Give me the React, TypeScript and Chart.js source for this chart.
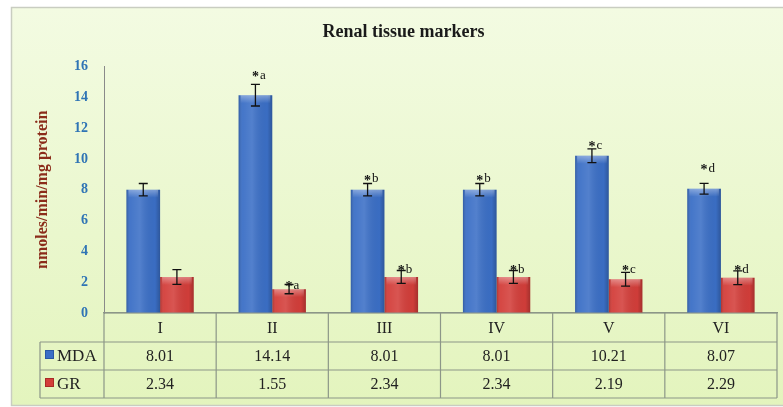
import React, { useEffect, useRef } from "react";
import { Chart, registerables } from "chart.js";

Chart.register(...registerables);

const categories = ["I", "II", "III", "IV", "V", "VI"];
const seriesNames = ["MDA", "GR"];
const mdaValues = [8.01, 14.14, 8.01, 8.01, 10.21, 8.07];
const grValues = [2.34, 1.55, 2.34, 2.34, 2.19, 2.29];
const mdaErrors = [0.4, 0.7, 0.4, 0.4, 0.45, 0.35];
const grErrors = [0.48, 0.3, 0.42, 0.42, 0.45, 0.45];
const mdaMarks = ["", "a", "b", "b", "c", "d"];
const grMarks = ["", "a", "b", "b", "c", "d"];
const mdaMarkY = [null, 15.4, 8.7, 8.7, 10.9, 9.4];
const grMarkY = [null, 1.8, 2.8, 2.8, 2.8, 2.8];
const yMin = 0;
const yMax = 16;
const yStep = 2;
const chartTitle = "Renal tissue markers";
const yTitle = "nmoles/min/mg protein";

const SERIF = "'Liberation Serif', 'Times New Roman', serif";
const LINE = "#8c9688";
const BAR_COLORS = ["#3b6fc6", "#d33e3a"];
const BAR_EDGES = ["#2a58a4", "#a92b27"];

const errs = [mdaErrors, grErrors];
const marks = [mdaMarks, grMarks];
const markYs = [mdaMarkY, grMarkY];
const tableRows = [mdaValues, grValues];

const framePlugin = {
  id: "frame",
  beforeDraw(chart: any) {
    const { ctx, width, height } = chart;
    ctx.save();
    ctx.fillStyle = "#ffffff";
    ctx.fillRect(0, 0, width, height);
    const g = ctx.createLinearGradient(0, 8, 0, height);
    g.addColorStop(0, "#f3fbe2");
    g.addColorStop(1, "#e3f4bd");
    ctx.fillStyle = g;
    ctx.fillRect(11, 8, width, height - 9);
    ctx.strokeStyle = "#c9cdc1";
    ctx.lineWidth = 1.5;
    ctx.strokeRect(11.5, 7.5, width, height - 9);
    ctx.restore();
  },
};

const barDecorPlugin = {
  id: "barDecor",
  afterDatasetsDraw(chart: any) {
    const { ctx } = chart;
    const y = chart.scales.y;
    ctx.save();
    chart.data.datasets.forEach((ds: any, di: number) => {
      const meta = chart.getDatasetMeta(di);
      meta.data.forEach((el: any, i: number) => {
        const w = el.width;
        const left = el.x - w / 2;
        const top = Math.min(el.y, el.base);
        const h = Math.abs(el.base - el.y);
        const g = ctx.createLinearGradient(left, 0, left + w, 0);
        g.addColorStop(0, "rgba(0,0,0,0.18)");
        g.addColorStop(0.12, "rgba(255,255,255,0.05)");
        g.addColorStop(0.4, "rgba(255,255,255,0.12)");
        g.addColorStop(0.85, "rgba(0,0,0,0.02)");
        g.addColorStop(1, "rgba(0,0,0,0.22)");
        ctx.fillStyle = g;
        ctx.fillRect(left, top, w, h);
        const cg = ctx.createLinearGradient(0, top, 0, top + 8);
        cg.addColorStop(0, "rgba(255,255,255,0.35)");
        cg.addColorStop(1, "rgba(255,255,255,0)");
        ctx.fillStyle = cg;
        ctx.fillRect(left + 2, top, w - 4, 8);

        const v = ds.data[i];
        const e = errs[di][i];
        const yt = y.getPixelForValue(v + e);
        const yb = y.getPixelForValue(v - e);
        ctx.strokeStyle = "#111";
        ctx.lineWidth = 1.3;
        ctx.beginPath();
        ctx.moveTo(el.x, yt);
        ctx.lineTo(el.x, yb);
        ctx.moveTo(el.x - 4.5, yt);
        ctx.lineTo(el.x + 4.5, yt);
        ctx.moveTo(el.x - 4.5, yb);
        ctx.lineTo(el.x + 4.5, yb);
        ctx.stroke();

        const m = marks[di][i];
        const my = markYs[di][i];
        if (m && my != null) {
          const py = y.getPixelForValue(my);
          ctx.fillStyle = "#111";
          ctx.textBaseline = "middle";
          ctx.textAlign = "center";
          ctx.font = `bold 14px ${SERIF}`;
          ctx.fillText("*", el.x, py + 2);
          ctx.textAlign = "left";
          ctx.font = `13px ${SERIF}`;
          ctx.fillText(m, el.x + 4.5, py);
        }
      });
    });
    ctx.restore();
  },
};

const tablePlugin = {
  id: "dataTable",
  afterDraw(chart: any) {
    const { ctx, chartArea } = chart;
    const x = chart.scales.x;
    const n = categories.length;
    const left = chartArea.left;
    const right = chartArea.right;
    const r0 = chartArea.bottom;
    const r1 = x.bottom;
    const rowH = 28;
    const r2 = r1 + rowH;
    const r3 = r2 + rowH;
    const tableLeft = 40;
    ctx.save();
    ctx.strokeStyle = LINE;
    ctx.lineWidth = 1.2;
    ctx.beginPath();
    [r1, r2, r3].forEach((yy) => {
      ctx.moveTo(tableLeft, yy);
      ctx.lineTo(right, yy);
    });
    ctx.moveTo(left, r0);
    ctx.lineTo(right, r0);
    for (let i = 0; i <= n; i++) {
      const xx = x.getPixelForValue(i - 0.5);
      ctx.moveTo(xx, r0);
      ctx.lineTo(xx, r3);
    }
    ctx.moveTo(tableLeft, r1);
    ctx.lineTo(tableLeft, r3);
    ctx.stroke();

    const rowsY = [r1, r2];
    tableRows.forEach((vals, ri) => {
      const cy = rowsY[ri] + rowH / 2;
      ctx.fillStyle = BAR_COLORS[ri];
      ctx.fillRect(tableLeft + 5, cy - 6, 9, 9);
      ctx.strokeStyle = BAR_EDGES[ri];
      ctx.lineWidth = 1;
      ctx.strokeRect(tableLeft + 5.5, cy - 5.5, 8, 8);
      ctx.fillStyle = "#222";
      ctx.font = `17px ${SERIF}`;
      ctx.textBaseline = "middle";
      ctx.textAlign = "left";
      ctx.fillText(seriesNames[ri], tableLeft + 17, cy + 1);
      ctx.font = `16px ${SERIF}`;
      ctx.textAlign = "center";
      vals.forEach((v, i) => {
        ctx.fillText(v.toFixed(2), x.getPixelForValue(i), cy + 1);
      });
    });
    ctx.restore();
  },
};

export default function App() {
  const ref = useRef<HTMLCanvasElement | null>(null);
  useEffect(() => {
    if (!ref.current) return;
    const chart = new Chart(ref.current, {
      type: "bar",
      data: {
        labels: categories,
        datasets: [
          {
            label: seriesNames[0],
            data: mdaValues,
            backgroundColor: BAR_COLORS[0],
            borderColor: BAR_EDGES[0],
            borderWidth: 0,
          },
          {
            label: seriesNames[1],
            data: grValues,
            backgroundColor: BAR_COLORS[1],
            borderColor: BAR_EDGES[1],
            borderWidth: 0,
          },
        ],
      },
      options: {
        responsive: false,
        animation: false,
        layout: { padding: { left: 30, right: 6, top: 0, bottom: 65 } },
        datasets: { bar: { categoryPercentage: 0.6, barPercentage: 1.0 } },
        plugins: {
          legend: { display: false },
          tooltip: { enabled: false },
          title: {
            display: true,
            text: chartTitle,
            color: "#1a1a1a",
            font: { family: SERIF, size: 18, weight: "bold" },
            padding: { top: 22, bottom: 23 },
          },
        },
        scales: {
          x: {
            grid: { display: false, drawTicks: false },
            border: { display: true, color: LINE, width: 1.2 },
            ticks: {
              color: "#222",
              font: { family: SERIF, size: 16 },
              padding: 6,
            },
            afterFit: (s: any) => {
              s.height = 29;
            },
          },
          y: {
            min: yMin,
            max: yMax,
            grid: { display: false, drawTicks: false },
            border: { display: true, color: "#8a8a8a", width: 1 },
            ticks: {
              stepSize: yStep,
              color: "#2f74b5",
              font: { family: SERIF, size: 14, weight: "bold" },
              padding: 16,
            },
            title: {
              display: true,
              text: yTitle,
              color: "#8b2c1a",
              font: { family: SERIF, size: 16, weight: "bold" },
              padding: { top: 3, bottom: 0 },
            },
            afterFit: (s: any) => {
              s.width = 74;
            },
          },
        },
      },
      plugins: [framePlugin, barDecorPlugin, tablePlugin],
    } as any);
    return () => chart.destroy();
  }, []);
  return (
    <div style={{ position: "absolute", left: 0, top: 0, width: 783, height: 407 }}>
      <canvas ref={ref} width={783} height={407} style={{ display: "block" }} />
    </div>
  );
}
